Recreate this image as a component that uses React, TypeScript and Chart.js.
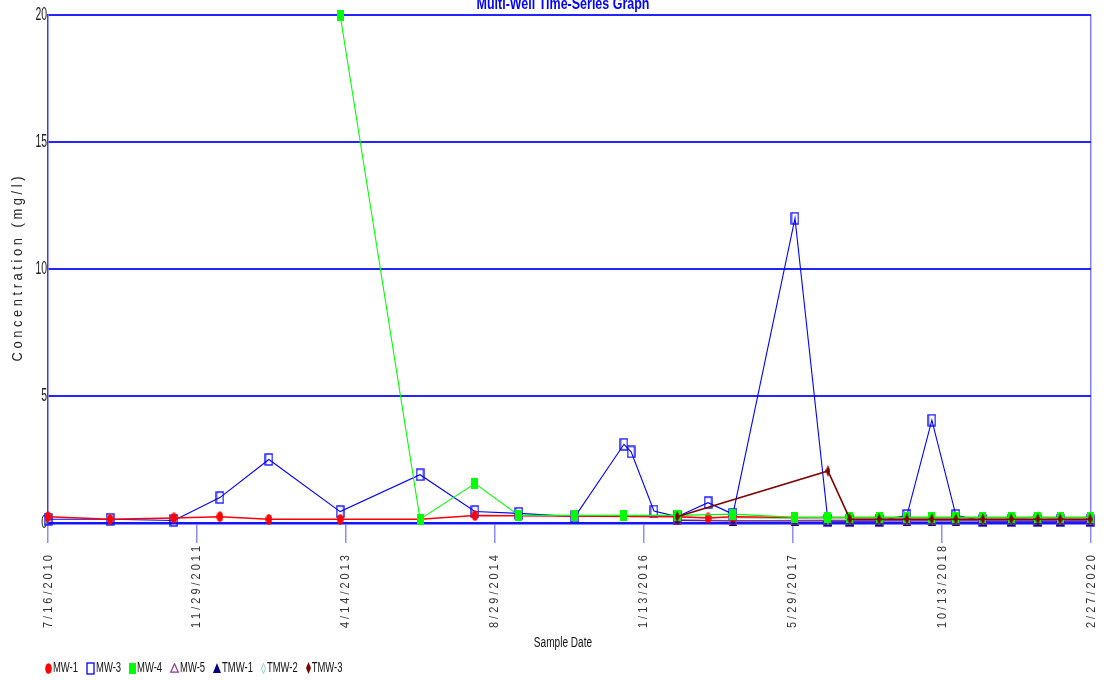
import React, { useEffect, useRef } from 'react';
import { Chart, registerables } from 'chart.js';

Chart.register(...registerables);

// ---------------- data ----------------
const SAMPLE_DATES = [
  '2010-07-16', '2011-02-10', '2011-09-13', '2012-02-15', '2012-07-29', '2013-03-26',
  '2013-12-20', '2014-06-23', '2014-11-18', '2015-05-26', '2015-11-07', '2015-12-01',
  '2016-02-16', '2016-05-04', '2016-08-16', '2016-11-08', '2017-06-05', '2017-09-24',
  '2017-12-07', '2018-03-15', '2018-06-17', '2018-09-09', '2018-11-29', '2019-02-28',
  '2019-06-03', '2019-09-01', '2019-11-15', '2020-02-24',
];

const MW1 = [0.25, 0.15, 0.2, 0.25, 0.15, 0.15, 0.15, 0.3, null, null, null, null, null, 0.25, 0.2, 0.25, 0.22, 0.22, 0.22, 0.22, 0.22, 0.22, 0.22, 0.22, 0.22, 0.22, 0.22, 0.22];
const MW3 = [0.15, 0.15, 0.1, 1.0, 2.5, 0.45, 1.9, 0.45, 0.38, 0.25, 3.1, 2.8, 0.47, 0.25, 0.8, 0.35, 12.0, 0.08, 0.08, 0.08, 0.3, 4.05, 0.3, 0.08, 0.08, 0.08, 0.08, 0.08];
const MW4 = [null, null, null, null, null, 20, 0.15, 1.55, 0.3, 0.3, 0.3, null, null, 0.3, null, 0.35, 0.22, 0.22, 0.22, 0.22, 0.22, 0.22, 0.22, 0.22, 0.22, 0.22, 0.22, 0.22];
const MW5 = [null, null, null, null, null, null, null, null, null, null, null, null, null, 0.12, null, 0.1, 0.1, 0.1, 0.1, 0.1, 0.1, 0.1, 0.1, 0.1, 0.1, 0.1, 0.1, 0.1];
const TMW1 = [null, null, null, null, null, null, null, null, null, null, null, null, null, 0.1, null, 0.08, 0.08, 0.08, 0.08, 0.08, 0.08, 0.08, 0.08, 0.08, 0.08, 0.08, 0.08, 0.08];
const TMW2 = [null, null, null, null, null, null, null, null, null, null, null, null, null, 0.25, null, null, null, 0.15, 0.15, 0.15, 0.15, 0.15, 0.15, 0.15, 0.15, 0.25, 0.15, 0.15];
const TMW3 = [null, null, null, null, null, null, null, null, null, null, null, null, null, 0.25, null, null, null, 2.05, 0.15, 0.15, 0.15, 0.15, 0.15, 0.15, 0.15, 0.15, 0.15, 0.15];

const SERIES_NAMES = ['MW-1', 'MW-3', 'MW-4', 'MW-5', 'TMW-1', 'TMW-2', 'TMW-3'];
const X_TICK_LABELS = ['7/16/2010', '11/29/2011', '4/14/2013', '8/29/2014', '1/13/2016', '5/29/2017', '10/13/2018', '2/27/2020'];
const Y_TICKS = [0, 5, 10, 15, 20];

const TITLE = 'Multi-Well Time-Series Graph';
const X_TITLE = 'Sample Date';
const Y_TITLE = 'Concentration (mg/l)';

// ---------------- helpers ----------------
const FONT = "'Liberation Sans', Arial, sans-serif";

const isoToMs = (s: string) => {
  const [y, m, d] = s.split('-').map(Number);
  return Date.UTC(y, m - 1, d);
};
const mdyToMs = (s: string) => {
  const [m, d, y] = s.split('/').map(Number);
  return Date.UTC(y, m - 1, d);
};
const msToMdy = (v: number) => {
  const dt = new Date(v);
  return `${dt.getUTCMonth() + 1}/${dt.getUTCDate()}/${dt.getUTCFullYear()}`;
};
const spaced = (s: string) => s.split('').join(' ');

function makeMarker(w: number, h: number, draw: (c: CanvasRenderingContext2D) => void) {
  const c = document.createElement('canvas');
  c.width = w;
  c.height = h;
  const ctx = c.getContext('2d')!;
  draw(ctx);
  return c;
}

function buildMarkers() {
  const ellipse = makeMarker(7, 11, (c) => {
    c.fillStyle = '#ff0000';
    c.beginPath();
    c.ellipse(3.5, 5.5, 3.3, 5.2, 0, 0, Math.PI * 2);
    c.fill();
  });
  const openRect = makeMarker(9, 13, (c) => {
    c.strokeStyle = '#0000ff';
    c.lineWidth = 1.3;
    c.strokeRect(1, 1, 7, 11);
  });
  const fillRect = makeMarker(7, 11, (c) => {
    c.fillStyle = '#00ff00';
    c.fillRect(0, 0, 7, 11);
  });
  const openTri = makeMarker(9, 10, (c) => {
    c.strokeStyle = '#993399';
    c.lineWidth = 1.2;
    c.beginPath();
    c.moveTo(4.5, 0.8);
    c.lineTo(8.3, 9.2);
    c.lineTo(0.7, 9.2);
    c.closePath();
    c.stroke();
  });
  const fillTri = makeMarker(8, 10, (c) => {
    c.fillStyle = '#000080';
    c.beginPath();
    c.moveTo(4, 0);
    c.lineTo(8, 10);
    c.lineTo(0, 10);
    c.closePath();
    c.fill();
  });
  const openDiamond = makeMarker(5, 11, (c) => {
    c.strokeStyle = '#9fcfc6';
    c.lineWidth = 1;
    c.beginPath();
    c.moveTo(2.5, 0.5);
    c.lineTo(4.5, 5.5);
    c.lineTo(2.5, 10.5);
    c.lineTo(0.5, 5.5);
    c.closePath();
    c.stroke();
  });
  const fillDiamond = makeMarker(5, 12, (c) => {
    c.fillStyle = '#800000';
    c.beginPath();
    c.moveTo(2.5, 0);
    c.lineTo(5, 6);
    c.lineTo(2.5, 12);
    c.lineTo(0, 6);
    c.closePath();
    c.fill();
  });
  return [ellipse, openRect, fillRect, openTri, fillTri, openDiamond, fillDiamond];
}

const SERIES_VALUES = [MW1, MW3, MW4, MW5, TMW1, TMW2, TMW3];
const SERIES_COLORS = ['#ff0000', '#0000ff', '#00ff00', '#993399', '#000080', '#a8cfca', '#800000'];
const SERIES_WIDTHS = [1.5, 1.1, 1.1, 1.1, 1.2, 1.5, 1.6];
const SERIES_ORDER = [3, 7, 2, 5, 6, 4, 1];

// draws text squeezed horizontally (the reference uses a condensed face)
function squeezedText(ctx: CanvasRenderingContext2D, text: string, x: number, y: number, sx: number) {
  ctx.save();
  ctx.translate(x, y);
  ctx.scale(sx, 1);
  ctx.fillText(text, 0, 0);
  ctx.restore();
}

// y axis: squeeze the scale's own tick labels horizontally around their right edge
function condenseY(s: any, k: number) {
  if (s.__condensed) return;
  s.__condensed = true;
  const orig = s.drawLabels.bind(s);
  s._computeLabelArea = () => undefined;
  s.drawLabels = (area: any) => {
    const ctx = s.ctx;
    const ax = s.right - 1;
    ctx.save();
    ctx.translate(ax, 0);
    ctx.scale(k, 1);
    ctx.translate(-ax, 0);
    orig(area);
    ctx.restore();
  };
}

// x axis: rotated labels anchored at their start (bottom) and condensed along their length
function condenseX(s: any, k: number, startOffset: number) {
  if (s.__condensed) return;
  s.__condensed = true;
  const origDraw = s.drawLabels.bind(s);
  const origItems = s.getLabelItems.bind(s);
  s._computeLabelArea = () => undefined;
  s.getLabelItems = (area: any) =>
    origItems(area).map((it: any) => ({
      ...it,
      options: {
        ...it.options,
        textAlign: 'left',
        translation: [it.options.translation[0], s.top + startOffset],
      },
    }));
  s.drawLabels = (area: any) => {
    const ctx = s.ctx;
    const ay = s.top + startOffset;
    ctx.save();
    ctx.translate(0, ay);
    ctx.scale(1, k);
    ctx.translate(0, -ay);
    origDraw(area);
    ctx.restore();
  };
}

export default function App() {
  const ref = useRef<HTMLCanvasElement | null>(null);

  useEffect(() => {
    document.body.style.margin = '0';
    document.body.style.overflow = 'hidden';
    const canvas = ref.current;
    if (!canvas) return;

    const markers = buildMarkers();
    const sampleMs = SAMPLE_DATES.map(isoToMs);
    const tickMs = X_TICK_LABELS.map(mdyToMs);

    const datasets = SERIES_NAMES.map((name, si) => ({
      label: name,
      data: sampleMs.map((x, i) => ({ x, y: SERIES_VALUES[si][i] })),
      borderColor: SERIES_COLORS[si],
      backgroundColor: SERIES_COLORS[si],
      borderWidth: SERIES_WIDTHS[si],
      pointStyle: markers[si],
      pointRadius: 5,
      tension: 0,
      spanGaps: true,
      clip: false as const,
      order: SERIES_ORDER[si],
    }));

    const overlay = {
      id: 'overlay',
      afterDraw(chart: any) {
        const { ctx, chartArea } = chart;
        ctx.save();
        // main title (partly cut off at the top edge)
        ctx.fillStyle = '#0000ff';
        ctx.font = `bold 16px ${FONT}`;
        ctx.textAlign = 'center';
        ctx.textBaseline = 'alphabetic';
        squeezedText(ctx, TITLE, 563, 9, 0.78);

        // x axis title
        ctx.fillStyle = '#111';
        ctx.font = `14px ${FONT}`;
        ctx.textBaseline = 'middle';
        squeezedText(ctx, X_TITLE, 563, 643, 0.72);

        // y axis title (rotated, condensed along its length)
        ctx.save();
        ctx.translate(18, (chartArea.top + chartArea.bottom) / 2);
        ctx.rotate(-Math.PI / 2);
        ctx.font = `15px ${FONT}`;
        ctx.scale(0.86, 1);
        ctx.fillStyle = '#222';
        ctx.fillText(spaced(Y_TITLE), 0, 0);
        ctx.restore();

        // legend
        let x = 45;
        const cy = 668;
        const sx = 0.63;
        ctx.font = `15px ${FONT}`;
        ctx.textAlign = 'left';
        ctx.textBaseline = 'middle';
        SERIES_NAMES.forEach((name, i) => {
          const m = markers[i];
          ctx.drawImage(m, Math.round(x), Math.round(cy - m.height / 2));
          x += m.width + 1;
          ctx.fillStyle = '#111';
          squeezedText(ctx, name, x, cy, sx);
          x += ctx.measureText(name).width * sx + 8;
        });
        ctx.restore();
      },
    };

    const chart = new Chart(canvas, {
      type: 'line',
      data: { datasets },
      options: {
        responsive: false,
        animation: false,
        events: [],
        layout: { padding: { left: 0, right: 16, top: 15, bottom: 32 } },
        plugins: {
          legend: { display: false },
          tooltip: { enabled: false },
          title: { display: false },
        },
        scales: {
          x: {
            type: 'linear',
            min: tickMs[0],
            max: tickMs[tickMs.length - 1],
            afterBuildTicks: (s: any) => {
              s.ticks = tickMs.map((v) => ({ value: v }));
            },
            afterFit: (s: any) => {
              s.height = 125;
              s.paddingLeft = 0;
              s.paddingRight = 0;
            },
            afterUpdate: (s: any) => condenseX(s, 0.84, 105),
            ticks: {
              autoSkip: false,
              maxRotation: 90,
              minRotation: 90,
              padding: 11,
              color: '#333',
              font: { family: FONT, size: 13 },
              callback: (v: any) => spaced(msToMdy(Number(v))),
            },
            grid: {
              drawOnChartArea: true,
              color: (c: any) => (c.index === tickMs.length - 1 ? '#8282ff' : 'rgba(0,0,0,0)'),
              tickColor: '#8c8cff',
              tickLength: 20,
              lineWidth: 1.5,
            },
            border: { display: true, color: '#1515ff', width: 2.5 },
          },
          y: {
            type: 'linear',
            min: 0,
            max: 20,
            afterBuildTicks: (s: any) => {
              s.ticks = Y_TICKS.map((v) => ({ value: v }));
            },
            afterFit: (s: any) => {
              s.width = 48;
            },
            afterUpdate: (s: any) => condenseY(s, 0.58),
            ticks: {
              padding: 1,
              color: '#222',
              font: { family: FONT, size: 18 },
            },
            grid: { color: '#2424ff', lineWidth: 2, drawTicks: false },
            border: { display: true, color: '#3a3aff', width: 1.5 },
          },
        },
      },
      plugins: [overlay],
    } as any);

    return () => chart.destroy();
  }, []);

  return <canvas ref={ref} width={1107} height={680} style={{ display: 'block' }} />;
}
